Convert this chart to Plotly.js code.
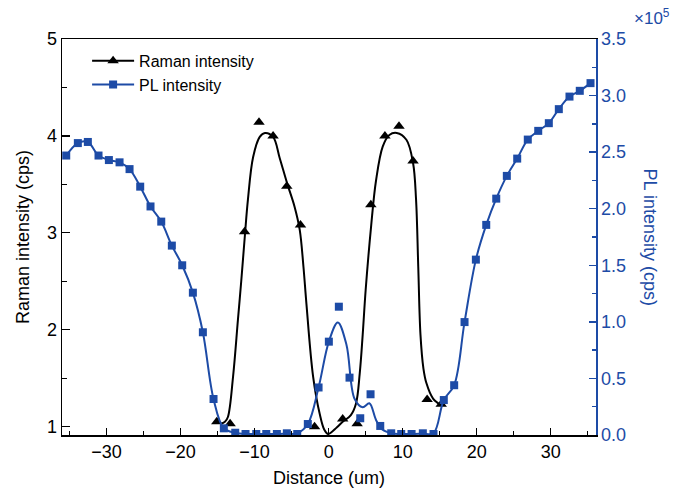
<!DOCTYPE html>
<html>
<head>
<meta charset="utf-8">
<script src="https://cdn.plot.ly/plotly-3.0.1.min.js"></script>
<style>
  html, body { margin: 0; padding: 0; background: #ffffff; }
  #chart { width: 673px; height: 488px; }
</style>
</head>
<body>
<div id="chart"></div>
<script>
// ---- Raman intensity (cps): measured points ----
const ramanX = [-15.1, -13.3, -11.35, -9.4, -7.5, -5.65, -3.8, -1.9, 1.9, 3.85, 5.7, 7.6, 9.5, 11.4, 13.3, 15.2];
const ramanY = [1.05, 1.03, 3.01, 4.14, 4.00, 3.48, 3.08, 1.00, 1.08, 1.03, 3.29, 4.00, 4.10, 3.74, 1.28, 1.23];

// ---- Raman fitted curve ----
const ramanFitX = [-14.6, -14.0, -13.6, -12.9, -12.25, -11.8, -11.3, -10.9, -10.2, -9.3, -8.6, -7.5, -6.6, -5.6, -4.6, -3.9, -3.4, -3.0, -2.1, -1.2, -0.6, -0.1, 0.5, 1.0, 1.9, 3.0, 3.7, 4.2, 4.6, 5.0, 5.75, 6.4, 7.3, 8.2, 9.2, 10.5, 11.4, 11.8, 12.1, 12.4, 12.8, 13.2, 14.1, 15.2];
const ramanFitY = [1.03, 1.05, 1.10, 1.52, 2.10, 2.50, 2.98, 3.34, 3.78, 3.99, 4.03, 3.99, 3.77, 3.51, 3.27, 3.03, 2.65, 2.27, 1.52, 1.13, 0.97, 0.925, 0.95, 0.985, 1.05, 1.12, 1.24, 1.55, 1.95, 2.41, 3.08, 3.54, 3.89, 4.01, 4.03, 3.96, 3.72, 3.35, 2.65, 1.95, 1.60, 1.45, 1.29, 1.22];

// ---- PL intensity (x10^5 cps): measured points ----
const plX = [-35.43, -33.86, -32.51, -31.07, -29.67, -28.23, -26.88, -25.44, -24.05, -22.6, -21.17, -19.77, -18.33, -16.98, -15.54, -14.15, -12.61, -11.22, -9.77, -8.42, -6.99, -5.64, -4.24, -2.81, -1.36, 0.03, 1.38, 2.82, 4.27, 5.66, 6.97, 8.45, 9.8, 11.2, 12.72, 14.16, 15.55, 16.95, 18.35, 19.88, 21.28, 22.63, 24.06, 25.46, 26.89, 28.3, 29.73, 31.08, 32.52, 33.91, 35.36];
const plY = [2.47, 2.58, 2.59, 2.47, 2.43, 2.41, 2.35, 2.195, 2.02, 1.886, 1.674, 1.50, 1.258, 0.908, 0.318, 0.059, 0.020, 0.009, 0.009, 0.009, 0.009, 0.015, 0.009, 0.097, 0.42, 0.825, 1.134, 0.507, 0.148, 0.36, 0.08, 0.015, 0.009, 0.009, 0.015, 0.009, 0.309, 0.44, 0.998, 1.55, 1.857, 2.089, 2.29, 2.443, 2.611, 2.688, 2.756, 2.88, 2.991, 3.042, 3.11];

// ---- PL fitted curve ----
const plFitX = [-35.43, -33.86, -32.51, -31.07, -29.67, -28.23, -26.88, -25.44, -24.05, -22.6, -21.17, -19.77, -18.33, -16.98, -15.54, -14.15, -12.61, -11.22, -9.77, -8.42, -6.99, -5.64, -4.24, -2.81, -1.36, 0.03, 1.24, 2.4, 3.5, 4.6, 5.5, 6.4, 7.2, 8.45, 9.8, 11.2, 12.72, 14.16, 15.55, 16.95, 18.35, 19.88, 21.28, 22.63, 24.06, 25.46, 26.89, 28.3, 29.73, 31.08, 32.52, 33.91, 35.36];
const plFitY = [2.47, 2.58, 2.59, 2.47, 2.43, 2.41, 2.35, 2.195, 2.02, 1.886, 1.674, 1.50, 1.258, 0.908, 0.318, 0.059, 0.020, 0.009, 0.009, 0.009, 0.009, 0.012, 0.015, 0.097, 0.42, 0.825, 0.995, 0.80, 0.32, 0.245, 0.28, 0.133, 0.05, 0.015, 0.009, 0.009, 0.012, 0.015, 0.309, 0.44, 0.998, 1.55, 1.857, 2.089, 2.29, 2.443, 2.611, 2.688, 2.756, 2.88, 2.991, 3.042, 3.11];

const seriesNames = ['Raman intensity', 'PL intensity'];
const xTitle = 'Distance (um)';
const yTitle = 'Raman intensity (cps)';
const y2Title = 'PL intensity (cps)';
const y2Scale = '×10<sup>5</sup>';

const BLUE = '#1d4ba6';
const FONT = '"Liberation Sans", Arial, Helvetica, sans-serif';

const ramanMarker = { symbol: 'triangle-up', size: 10, color: '#000000' };
const plMarker = { symbol: 'square', size: 8, color: BLUE };

const traces = [
  // fitted curve; its (hidden) markers only serve the legend key
  { x: ramanFitX, y: ramanFitY, type: 'scatter', mode: 'lines+markers', name: seriesNames[0],
    line: { color: '#000000', width: 2, shape: 'spline', smoothing: 1 },
    marker: ramanMarker, selectedpoints: [], unselected: { marker: { opacity: 0 } },
    showlegend: true, hoverinfo: 'skip' },
  { x: ramanX, y: ramanY, type: 'scatter', mode: 'markers', name: seriesNames[0],
    marker: ramanMarker, showlegend: false },
  { x: plFitX, y: plFitY, type: 'scatter', mode: 'lines+markers', name: seriesNames[1], yaxis: 'y2',
    line: { color: BLUE, width: 2, shape: 'spline', smoothing: 1 },
    marker: plMarker, selectedpoints: [], unselected: { marker: { opacity: 0 } },
    showlegend: true, hoverinfo: 'skip' },
  { x: plX, y: plY, type: 'scatter', mode: 'markers', name: seriesNames[1], yaxis: 'y2',
    marker: plMarker, showlegend: false }
];

const layout = {
  width: 673, height: 488,
  margin: { l: 62, r: 77, t: 39, b: 53 },
  paper_bgcolor: '#ffffff', plot_bgcolor: '#ffffff',
  font: { family: FONT, size: 18, color: '#000000' },
  showlegend: true,
  legend: {
    x: 0.047, y: 0.988, xanchor: 'left', yanchor: 'top',
    bgcolor: 'rgba(0,0,0,0)', borderwidth: 0,
    font: { family: FONT, size: 16, color: '#000000' },
    itemwidth: 42, tracegroupgap: 0
  },
  xaxis: {
    range: [-36, 36.1], tick0: 0, dtick: 10,
    ticks: 'inside', ticklen: 7, tickwidth: 1.3, tickcolor: '#000000',
    minor: { dtick: 5, ticks: 'inside', ticklen: 4, tickwidth: 1.3, tickcolor: '#000000' },
    showline: true, linecolor: '#000000', linewidth: 1.5, mirror: true,
    showgrid: false, zeroline: false,
    tickfont: { family: FONT, size: 18, color: '#000000' },
    title: { text: xTitle, font: { family: FONT, size: 18, color: '#000000' }, standoff: 11 }
  },
  yaxis: {
    range: [0.914, 5.0], tick0: 0, dtick: 1,
    ticks: 'inside', ticklen: 8, tickwidth: 1.3, tickcolor: '#000000',
    minor: { dtick: 0.5, ticks: 'inside', ticklen: 5, tickwidth: 1.3, tickcolor: '#000000' },
    showline: true, linecolor: '#000000', linewidth: 1.5, mirror: false,
    showgrid: false, zeroline: false,
    tickfont: { family: FONT, size: 18, color: '#000000' },
    title: { text: yTitle, font: { family: FONT, size: 18, color: '#000000' }, standoff: 12 }
  },
  yaxis2: {
    overlaying: 'y', side: 'right',
    range: [0, 3.5], tick0: 0, dtick: 0.5, tickformat: '.1f',
    ticks: 'inside', ticklen: 7, tickwidth: 1.3, tickcolor: BLUE,
    minor: { dtick: 0.25, ticks: 'inside', ticklen: 4, tickwidth: 1.3, tickcolor: BLUE },
    showline: true, linecolor: BLUE, linewidth: 1.5,
    showgrid: false, zeroline: false,
    tickfont: { family: FONT, size: 18, color: BLUE }
  },
  annotations: [
    { text: y2Title, xref: 'paper', yref: 'paper', x: 1.102, y: 0.5,
      xanchor: 'center', yanchor: 'middle', textangle: 90, showarrow: false,
      font: { family: FONT, size: 18, color: BLUE } },
    { text: y2Scale, xref: 'paper', yref: 'paper', x: 1.068, y: 1.055,
      xanchor: 'left', yanchor: 'middle', showarrow: false,
      font: { family: FONT, size: 17, color: BLUE } }
  ]
};

Plotly.newPlot('chart', traces, layout, { staticPlot: true, displayModeBar: false });
</script>
</body>
</html>
